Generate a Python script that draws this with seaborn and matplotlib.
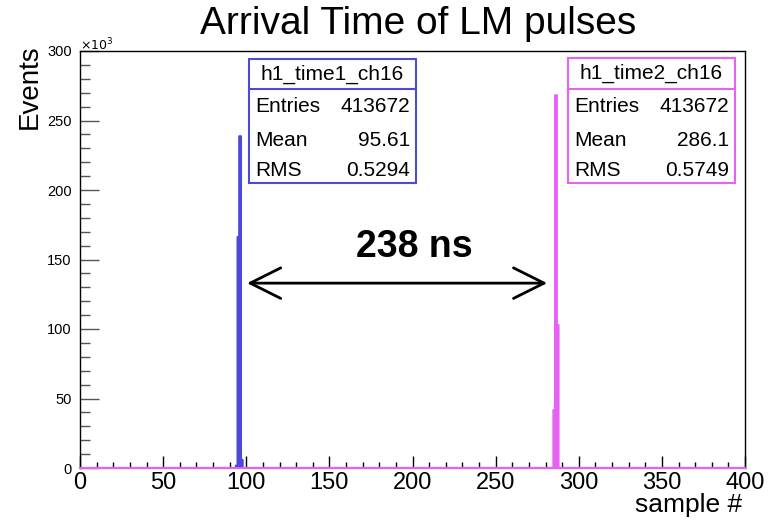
import numpy as np
import pandas as pd
import matplotlib
matplotlib.use("Agg")
import matplotlib.pyplot as plt
from matplotlib.ticker import MultipleLocator, FuncFormatter
from matplotlib.patches import Rectangle
from matplotlib.lines import Line2D
import seaborn as sns

# ---- data ----
time1_samples = [94, 95, 96, 97]
time1_counts = [2000, 166500, 239000, 6172]
time2_samples = [285, 286, 287]
time2_counts = [42000, 268500, 103172]

stats1 = {"name": "h1_time1_ch16", "Entries": "413672", "Mean": "95.61", "RMS": "0.5294"}
stats2 = {"name": "h1_time2_ch16", "Entries": "413672", "Mean": "286.1", "RMS": "0.5749"}

x_ticks = [0, 50, 100, 150, 200, 250, 300, 350, 400]
y_ticks = [0, 50000, 100000, 150000, 200000, 250000, 300000]

blue = "#4b4bd8"
pink = "#e562f2"

sns.set_theme(style="white")
plt.rcParams["font.family"] = ["Liberation Sans", "DejaVu Sans"]
plt.rcParams["text.color"] = "black"
plt.rcParams["axes.labelcolor"] = "black"
plt.rcParams["xtick.color"] = "black"
plt.rcParams["ytick.color"] = "black"

W, H = 771, 526
fig = plt.figure(figsize=(W / 100, H / 100), dpi=100)

def fx(px):
    return px / W

def fy(py):
    return 1 - py / H

ax = fig.add_axes([fx(80), fy(468), fx(745) - fx(80), fy(51) - fy(468)])

df1 = pd.DataFrame({"sample": time1_samples, "count": time1_counts})
df2 = pd.DataFrame({"sample": time2_samples, "count": time2_counts})

common = dict(binwidth=1, binrange=(-0.5, 400.5), element="step", fill=True,
              alpha=1.0, linewidth=1.6)
sns.histplot(data=df1, x="sample", weights="count", color=blue, edgecolor=blue, ax=ax, **common)
sns.histplot(data=df2, x="sample", weights="count", color=pink, edgecolor=pink, ax=ax, **common)
for art in list(ax.collections) + list(ax.patches) + list(ax.lines):
    art.set_zorder(3)

ax.set_xlim(0, 400)
ax.set_ylim(0, 300000)
ax.set_xlabel("")
ax.set_ylabel("")

for s in ax.spines.values():
    s.set_color("black")
    s.set_linewidth(1.0)
ax.spines["bottom"].set_color(pink)
ax.spines["bottom"].set_linewidth(1.6)

ax.set_xticks(x_ticks)
ax.xaxis.set_minor_locator(MultipleLocator(10))
ax.set_yticks(y_ticks)
ax.yaxis.set_minor_locator(MultipleLocator(10000))
ax.yaxis.set_major_formatter(FuncFormatter(lambda v, p: f"{int(round(v / 1000))}"))

ax.tick_params(axis="x", which="major", direction="in", length=9, width=1, color="black",
               labelsize=17, labelcolor="black", pad=3, bottom=True, top=False)
ax.tick_params(axis="x", which="minor", direction="in", length=4.5, width=1, color="black",
               bottom=True, top=False)
ax.tick_params(axis="y", which="major", direction="in", length=14, width=1, color="#555555",
               labelsize=10.5, labelcolor="black", pad=6, left=True, right=False)
ax.tick_params(axis="y", which="minor", direction="in", length=7, width=1, color="#555555",
               left=True, right=False)

# titles and axis labels
fig.text(fx(418), fy(24), "Arrival Time of LM pulses", ha="center", va="center", fontsize=28)
fig.text(fx(30), fy(44), "Events", rotation=90, ha="center", va="top", fontsize=20)
fig.text(fx(742), fy(505), "sample #", ha="right", va="center", fontsize=19)
fig.text(fx(80), fy(45), r"$\times10^{3}$", ha="left", va="center", fontsize=9)

# stat boxes
def stat_box(left, right, top, hdr, bottom, color, st):
    fig.add_artist(Rectangle((fx(left), fy(bottom)), fx(right) - fx(left), fy(top) - fy(bottom),
                             transform=fig.transFigure, facecolor="white", edgecolor=color,
                             linewidth=1.5, zorder=5))
    fig.add_artist(Line2D([fx(left), fx(right)], [fy(hdr), fy(hdr)], transform=fig.transFigure,
                          color=color, linewidth=1.5, zorder=6))
    fig.text(fx((left + right) / 2), fy((top + hdr) / 2), st["name"], ha="center", va="center",
             fontsize=15, zorder=7)
    for key, yy in (("Entries", 107), ("Mean", 140), ("RMS", 170)):
        fig.text(fx(left + 6), fy(yy), key, ha="left", va="center", fontsize=15, zorder=7)
        fig.text(fx(right - 6), fy(yy), st[key], ha="right", va="center", fontsize=15, zorder=7)

stat_box(249, 416, 59, 89, 183, blue, stats1)
stat_box(568, 735, 58, 89, 183, pink, stats2)

# arrow annotation
ax.annotate("", xy=(100.5, 133000), xytext=(281, 133000),
            arrowprops=dict(arrowstyle="<->,head_length=1.1,head_width=0.55", color="black",
                            lw=2.0, mutation_scale=20, shrinkA=0, shrinkB=0))
ax.text(201, 159000, "238 ns", ha="center", va="center", fontsize=27, fontweight="bold")

fig.savefig("out.png", dpi=100)
